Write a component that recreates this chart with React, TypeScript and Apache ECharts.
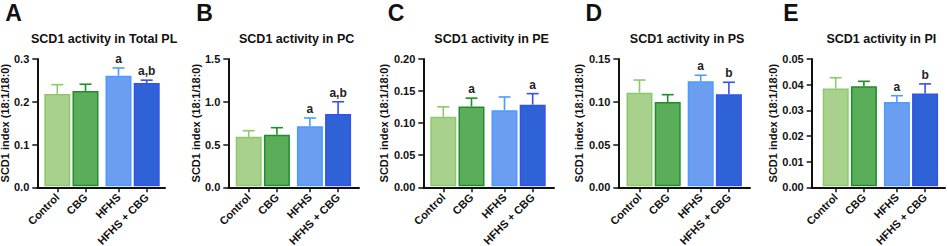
import React, { useEffect, useRef } from "react";
import * as echarts from "echarts";

// ---------- data ----------
const categories = ["Control", "CBG", "HFHS", "HFHS + CBG"];
const panelLetters = ["A", "B", "C", "D", "E"];
const panelTitles = [
  "SCD1 activity in Total PL",
  "SCD1 activity in PC",
  "SCD1 activity in PE",
  "SCD1 activity in PS",
  "SCD1 activity in PI",
];
const yAxisName = "SCD1 index (18:1/18:0)";

const meansTotalPL = [0.218, 0.225, 0.261, 0.244];
const semTotalPL = [0.022, 0.016, 0.018, 0.0065];
const sigTotalPL = ["", "", "a", "a,b"];

const meansPC = [0.59, 0.615, 0.713, 0.857];
const semPC = [0.072, 0.082, 0.097, 0.143];
const sigPC = ["", "", "a", "a,b"];

const meansPE = [0.11, 0.126, 0.12, 0.1288];
const semPE = [0.0155, 0.013, 0.0208, 0.0172];
const sigPE = ["", "a", "", "a"];

const meansPS = [0.1106, 0.0997, 0.1239, 0.1087];
const semPS = [0.0148, 0.0086, 0.0071, 0.0141];
const sigPS = ["", "", "a", "b"];

const meansPI = [0.0385, 0.0394, 0.0332, 0.0366];
const semPI = [0.0042, 0.0019, 0.0025, 0.0037];
const sigPI = ["", "", "a", "b"];

const yMaxes = [0.3, 1.5, 0.2, 0.15, 0.05];
const yIntervals = [0.1, 0.5, 0.05, 0.05, 0.01];
const yDecimals = [1, 1, 2, 2, 2];

const allMeans = [meansTotalPL, meansPC, meansPE, meansPS, meansPI];
const allSem = [semTotalPL, semPC, semPE, semPS, semPI];
const allSig = [sigTotalPL, sigPC, sigPE, sigPS, sigPI];

// ---------- layout & style ----------
const FONT = "'Liberation Sans', Arial, Helvetica, sans-serif";
const GRID_TOP = 59;
const GRID_HEIGHT = 128.3;
const gridLeft = [37.3, 228.3, 423.3, 618.3, 811.7];
const gridRight = [165, 359, 554, 750, 945];
const firstCenter = [57.3, 248.7, 443.3, 639.5, 835.7];
const letterX = [13.5, 204.5, 396, 593.7, 791];
const UNIT = 28.2;
const GROUP_GAP = 0.17;
const BAR_WIDTH = 26;
const CAP_WIDTH = 12;
const fills = ["#a9d18e", "#5aae5a", "#6b9ef0", "#2e62d6"];
const strokes = ["#8cc96a", "#1f8d2c", "#4a9bff", "#3650ee"];
const AXIS_COLOR = "#111";

const slot = (i: number) => i + (i >= 2 ? GROUP_GAP : 0);
const slots = categories.map((_, i) => slot(i));

function buildOption() {
  const grid: any[] = [];
  const xAxis: any[] = [];
  const yAxis: any[] = [];
  const series: any[] = [];
  const graphic: any[] = [];

  for (let p = 0; p < 5; p++) {
    const xMin = (gridLeft[p] - firstCenter[p]) / UNIT;
    const xMax = (gridRight[p] - firstCenter[p]) / UNIT;
    grid.push({
      left: gridLeft[p],
      top: GRID_TOP,
      width: gridRight[p] - gridLeft[p],
      height: GRID_HEIGHT,
      containLabel: false,
      outerBoundsMode: "none",
    });
    xAxis.push({
      type: "value",
      gridIndex: p,
      min: xMin,
      max: xMax,
      axisLine: { show: true, onZero: false, lineStyle: { color: AXIS_COLOR, width: 2 } },
      axisTick: {
        show: true,
        length: 5,
        customValues: slots,
        lineStyle: { color: AXIS_COLOR, width: 1.5 },
      },
      axisLabel: {
        show: true,
        customValues: slots,
        rotate: 45,
        margin: 8,
        fontFamily: FONT,
        fontWeight: "bold",
        fontSize: 11,
        color: "#111",
        formatter: (v: number) => {
          let best = 0;
          for (let i = 0; i < slots.length; i++) {
            if (Math.abs(slots[i] - v) < Math.abs(slots[best] - v)) best = i;
          }
          return categories[best];
        },
      },
      splitLine: { show: false },
    });
    const dec = yDecimals[p];
    yAxis.push({
      type: "value",
      gridIndex: p,
      min: 0,
      max: yMaxes[p],
      interval: yIntervals[p],
      name: yAxisName,
      nameLocation: "middle",
      nameGap: 24,
      nameTextStyle: { fontFamily: FONT, fontWeight: "bold", fontSize: 11, color: "#111" },
      axisLine: { show: true, onZero: false, lineStyle: { color: AXIS_COLOR, width: 2 } },
      axisTick: { show: true, length: 5, lineStyle: { color: AXIS_COLOR, width: 1.5 } },
      axisLabel: {
        margin: 8,
        fontFamily: FONT,
        fontWeight: "bold",
        fontSize: 11,
        color: "#111",
        formatter: (v: number) => v.toFixed(dec),
      },
      splitLine: { show: false },
    });
    const means = allMeans[p];
    const sem = allSem[p];
    const sig = allSig[p];
    series.push({
      type: "custom",
      xAxisIndex: p,
      yAxisIndex: p,
      clip: false,
      data: categories.map((_, i) => [slots[i], means[i], sem[i]]),
      renderItem: (params: any, api: any) => {
        const i = params.dataIndex;
        const x = api.value(0);
        const m = api.value(1);
        const e = api.value(2);
        const base = api.coord([x, 0]);
        const top = api.coord([x, m]);
        const upper = api.coord([x, m + e]);
        const sw = 1.5;
        const cx = base[0];
        const children: any[] = [
          {
            type: "line",
            shape: { x1: cx, y1: top[1], x2: cx, y2: upper[1] },
            style: { stroke: strokes[i], lineWidth: 1.6 },
          },
          {
            type: "line",
            shape: { x1: cx - CAP_WIDTH / 2, y1: upper[1], x2: cx + CAP_WIDTH / 2, y2: upper[1] },
            style: { stroke: strokes[i], lineWidth: 1.6 },
          },
          {
            type: "rect",
            shape: {
              x: cx - BAR_WIDTH / 2 + sw / 2,
              y: top[1] + sw / 2,
              width: BAR_WIDTH - sw,
              height: base[1] - 1 - (top[1] + sw / 2) - sw / 2,
            },
            style: { fill: fills[i], stroke: strokes[i], lineWidth: sw },
          },
        ];
        if (sig[i]) {
          children.push({
            type: "text",
            style: {
              text: sig[i],
              x: cx,
              y: upper[1] - 3,
              textAlign: "center",
              textVerticalAlign: "bottom",
              fontFamily: FONT,
              fontWeight: "bold",
              fontSize: 12,
              fill: "#222",
            },
          });
        }
        return { type: "group", children };
      },
    });

    graphic.push({
      type: "text",
      x: letterX[p],
      y: 13,
      style: {
        text: panelLetters[p],
        textAlign: "center",
        textVerticalAlign: "middle",
        fontFamily: FONT,
        fontWeight: "bold",
        fontSize: 23,
        fill: "#111",
      },
    });
    graphic.push({
      type: "text",
      x: (gridLeft[p] + gridRight[p]) / 2 + 3,
      y: 39,
      style: {
        text: panelTitles[p],
        textAlign: "center",
        textVerticalAlign: "middle",
        fontFamily: FONT,
        fontWeight: "bold",
        fontSize: 12.5,
        fill: "#111",
      },
    });
  }

  return {
    animation: false,
    backgroundColor: "#ffffff",
    grid,
    xAxis,
    yAxis,
    series,
    graphic,
  };
}

export default function App() {
  const ref = useRef<HTMLDivElement>(null);
  useEffect(() => {
    if (!ref.current) return;
    const chart = echarts.init(ref.current, undefined, { renderer: "svg" });
    chart.setOption(buildOption() as any);
    return () => {
      chart.dispose();
    };
  }, []);
  return (
    <div
      ref={ref}
      style={{ position: "fixed", left: 0, top: 0, width: 948, height: 246, background: "#fff" }}
    />
  );
}
